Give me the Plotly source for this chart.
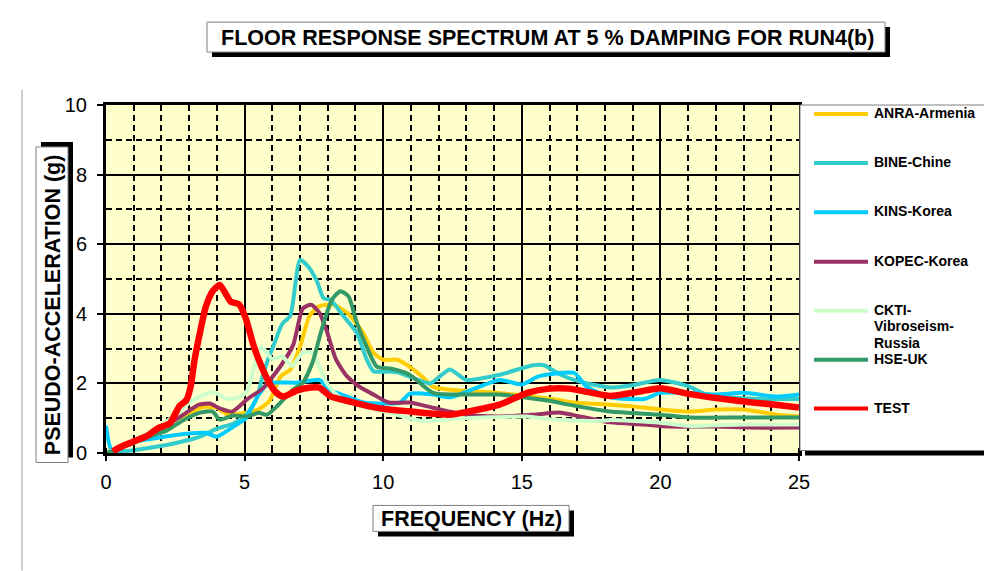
import plotly.graph_objects as go

# ---------------- data ----------------
anra_x = [0, 0.5, 1.0, 1.5, 2.0, 2.5, 3.0, 3.5, 4.0, 4.4, 5.0, 5.5, 5.9, 6.3, 6.65, 7.0, 7.35, 7.7, 8.2, 8.7,
          9.27, 9.65, 10.0, 10.5, 10.95, 11.45, 11.8, 12.4, 13.6, 14.7, 15.4, 16.3, 16.9, 18.2, 19.0, 20.0,
          21.05, 22.0, 23.0, 24.2, 25.0]
anra_y = [0, 0.15, 0.3, 0.5, 0.7, 0.95, 1.15, 1.32, 1.3, 1.1, 1.15, 1.25, 1.5, 2.2, 2.4, 3.06, 3.95, 4.22, 4.26, 4.03,
          3.46, 2.88, 2.68, 2.68, 2.48, 2.16, 1.9, 1.82, 1.76, 1.68, 1.62, 1.53, 1.45, 1.39, 1.34, 1.25,
          1.19, 1.25, 1.25, 1.1, 1.05]

bine_x = [0, 1.0, 1.6, 2.6, 3.4, 4.0, 4.6, 5.05, 5.4, 5.65, 5.85, 6.05, 6.35, 6.65, 7.0, 7.3, 7.6, 7.85, 8.1, 8.55,
          9.05, 9.4, 9.65, 10.2, 10.6, 11.1, 11.7, 12.4, 13.0, 14.2, 15.4, 15.8, 16.4, 17.1, 18.2, 19.0, 20.0,
          21.0, 21.6, 22.5, 23.5, 25.0]
bine_y = [0, 0.08, 0.15, 0.3, 0.47, 0.7, 0.85, 1.1, 1.5, 2.2, 2.7, 3.1, 3.7, 3.95, 5.55, 5.35, 4.95, 4.45, 4.4, 3.95,
          3.45, 2.7, 2.35, 2.34, 2.3, 2.15, 2.0, 2.4, 2.1, 2.25, 2.52, 2.52, 2.25, 2.05, 1.88, 1.95, 2.1,
          1.92, 1.7, 1.6, 1.55, 1.55]

kins_x = [0, 0.2, 0.6, 1.0, 1.6, 2.4, 2.9, 3.6, 4.0, 4.6, 5.05, 5.45, 5.85, 6.9, 7.7, 8.05, 8.7, 9.3, 10.6, 10.95,
          11.8, 12.4, 12.9, 14.2, 15.0, 15.6, 16.4, 16.9, 17.35, 18.2, 19.4, 20.0, 21.0, 22.0, 23.0, 24.2, 25.0]
kins_y = [0.78, 0.1, 0.22, 0.32, 0.4, 0.5, 0.55, 0.58, 0.47, 0.76, 1.0, 1.6, 2.0, 2.02, 2.1, 1.82, 1.62, 1.45, 1.45, 1.7,
          1.68, 1.6, 1.73, 2.1, 1.97, 2.2, 2.3, 2.3, 1.9, 1.6, 1.55, 1.73, 1.73, 1.68, 1.73, 1.62, 1.68]

kopec_x = [0, 0.5, 1.0, 1.5, 2.0, 2.5, 2.9, 3.35, 3.75, 4.1, 4.55, 5.1, 5.65, 6.3, 6.75, 7.1, 7.4, 7.7, 7.95, 8.3,
           8.7, 9.15, 9.65, 10.2, 10.95, 11.8, 13.0, 14.2, 15.4, 16.4, 17.1, 18.2, 19.4, 20.3, 22.0, 23.2, 25.0]
kopec_y = [0, 0.15, 0.3, 0.5, 0.7, 0.95, 1.16, 1.39, 1.42, 1.28, 1.19, 1.55, 1.85, 2.5, 3.1, 4.15, 4.26, 4.03, 3.54, 2.68,
           2.2, 1.9, 1.68, 1.45, 1.45, 1.3, 1.1, 1.05, 1.1, 1.16, 1.05, 0.88, 0.82, 0.76, 0.76, 0.73, 0.73]

ckti_x = [0, 0.5, 1.0, 1.5, 2.0, 2.65, 3.1, 3.85, 4.4, 4.85, 5.1, 5.35, 5.6, 6.0, 6.35, 6.7, 7.1, 7.45, 7.7, 7.95,
          8.4, 9.27, 10.2, 10.95, 11.4, 12.4, 13.6, 15.2, 16.0, 17.8, 18.2, 20.0, 21.0, 23.0, 25.0]
ckti_y = [0, 0.15, 0.35, 0.55, 0.8, 1.2, 1.5, 1.75, 1.55, 1.62, 1.8, 2.5, 3.05, 2.7, 2.78, 2.5, 2.88, 2.88, 2.48, 2.02,
          1.62, 1.34, 1.16, 1.0, 0.92, 0.98, 1.02, 1.05, 0.97, 0.92, 0.95, 0.87, 0.78, 0.82, 0.82]

hse_x = [0, 0.5, 1.0, 1.6, 2.2, 2.8, 3.4, 3.85, 4.1, 4.6, 5.1, 5.5, 5.8, 6.3, 6.75, 7.1, 7.45, 7.8, 8.15, 8.45,
         8.75, 9.05, 9.4, 9.77, 10.3, 10.95, 11.8, 13.0, 14.2, 15.2, 16.0, 16.7, 18.2, 20.0, 21.05, 23.0, 25.0]
hse_y = [0, 0.12, 0.3, 0.48, 0.65, 0.95, 1.16, 1.19, 0.96, 1.08, 1.05, 1.16, 1.1, 1.45, 1.82, 2.02, 2.6, 3.6, 4.4, 4.65,
         4.5, 3.74, 3.06, 2.48, 2.42, 2.25, 1.73, 1.68, 1.68, 1.59, 1.5, 1.39, 1.19, 1.1, 1.02, 1.02, 1.02]

test_x = [0.25, 0.6, 1.0, 1.5, 1.9, 2.3, 2.65, 2.9, 3.05, 3.2, 3.4, 3.6, 3.85, 4.1, 4.3, 4.5, 4.8, 5.05, 5.3, 5.55,
          5.9, 6.15, 6.4, 6.9, 7.4, 7.7, 8.1, 8.8, 9.5, 10.2, 10.9, 12.4, 13.0, 14.2, 15.2, 16.0, 16.7, 17.4,
          18.2, 19.15, 20.0, 21.0, 22.0, 23.0, 24.0, 25.0]
test_y = [0.05, 0.2, 0.33, 0.5, 0.72, 0.85, 1.35, 1.52, 1.9, 2.7, 3.5, 4.2, 4.65, 4.83, 4.6, 4.35, 4.27, 3.85, 3.15, 2.6,
          2.0, 1.73, 1.62, 1.8, 1.88, 1.88, 1.63, 1.48, 1.34, 1.25, 1.2, 1.1, 1.18, 1.39, 1.73, 1.85, 1.85, 1.75,
          1.64, 1.75, 1.86, 1.7, 1.58, 1.48, 1.4, 1.31]

names = ["ANRA-Armenia", "BINE-Chine", "KINS-Korea", "KOPEC-Korea", "CKTI-Vibroseism-Russia", "HSE-UK", "TEST"]
legend_lines = [["ANRA-Armenia"], ["BINE-Chine"], ["KINS-Korea"], ["KOPEC-Korea"],
                ["CKTI-", "Vibroseism-", "Russia"], ["HSE-UK"], ["TEST"]]
colors = ["#FFCC00", "#33CCCC", "#00CCFF", "#993366", "#CCFFCC", "#339966", "#FF0000"]
widths = [4, 4, 4, 4, 4, 4, 6.5]
xs = [anra_x, bine_x, kins_x, kopec_x, ckti_x, hse_x, test_x]
ys = [anra_y, bine_y, kins_y, kopec_y, ckti_y, hse_y, test_y]

title_text = "FLOOR RESPONSE SPECTRUM AT 5 % DAMPING FOR RUN4(b)"
xtitle_text = "FREQUENCY (Hz)"
ytitle_text = "PSEUDO-ACCELERATION (g)"

FONT = "Liberation Sans, Arial, sans-serif"

# ---------------- layout geometry ----------------
W, H = 984, 571
L, R, T, B = 106, 799, 105, 453.5


def px(xp):
    return (xp - L) / (R - L)


def py(yp):
    return (B - yp) / (B - T)


fig = go.Figure()
for n, x, y, c, w in zip(names, xs, ys, colors, widths):
    fig.add_trace(go.Scatter(x=x, y=y, mode="lines", name=n, showlegend=False,
                             line=dict(color=c, width=w, shape="spline", smoothing=0.6)))

shapes = []
annotations = []


def box(x0, y0, x1, y1, sh_dx, sh_dy, border="#808080"):
    shapes.append(dict(type="rect", xref="paper", yref="paper",
                       x0=px(x0 + sh_dx), x1=px(x1 + sh_dx), y0=py(y0 + sh_dy), y1=py(y1 + sh_dy),
                       fillcolor="black", line=dict(width=0)))
    shapes.append(dict(type="rect", xref="paper", yref="paper",
                       x0=px(x0), x1=px(x1), y0=py(y0), y1=py(y1),
                       fillcolor="white", line=dict(color=border, width=1)))


# title box
box(207, 22, 885, 52, 5, 5)
annotations.append(dict(text="<b>%s</b>" % title_text, xref="paper", yref="paper",
                        x=px(547), y=py(37.5), showarrow=False, xanchor="center", yanchor="middle",
                        font=dict(family=FONT, size=21.5, color="black")))
# x title box
box(373, 506, 569, 532, 5, 5)
annotations.append(dict(text="<b>%s</b>" % xtitle_text, xref="paper", yref="paper",
                        x=px(471.5), y=py(520), showarrow=False, xanchor="center", yanchor="middle",
                        font=dict(family=FONT, size=21.5, color="black")))
# y title box (shadow up-right)
box(36, 147, 68, 463, 5, -5)
annotations.append(dict(text="<b>%s</b>" % ytitle_text, xref="paper", yref="paper",
                        x=px(52.5), y=py(305), showarrow=False, xanchor="center", yanchor="middle",
                        textangle=-90, font=dict(family=FONT, size=21.5, color="black")))

# legend box
box(800, 105, 990, 451, 5, 5)
leg_y = [114, 163, 212.5, 262, 311, 360, 409]
for lines, c, yy in zip(legend_lines, colors, leg_y):
    shapes.append(dict(type="line", xref="paper", yref="paper", x0=px(814), x1=px(868), y0=py(yy), y1=py(yy),
                       line=dict(color=c, width=4)))
    for k, t in enumerate(lines):
        annotations.append(dict(text="<b>%s</b>" % t, xref="paper", yref="paper", x=px(872),
                                y=py(yy - 1 + 16.5 * k), showarrow=False, xanchor="left", yanchor="middle",
                                align="left", font=dict(family=FONT, size=14, color="black")))

# left chart-area border line
shapes.append(dict(type="line", xref="paper", yref="paper", x0=px(22), x1=px(22), y0=py(90), y1=py(571),
                   line=dict(color="#999999", width=1)))

fig.update_layout(
    width=W, height=H,
    margin=dict(l=L, r=W - R, t=T, b=H - B, autoexpand=False),
    paper_bgcolor="white", plot_bgcolor="#FFFFCC",
    font=dict(family=FONT, color="black"),
    shapes=shapes, annotations=annotations,
    showlegend=False,
    xaxis=dict(range=[0, 25], tick0=0, dtick=5, showgrid=True, gridcolor="black", gridwidth=2,
               zeroline=False, showline=True, linecolor="black", linewidth=3, mirror=True,
               ticks="outside", ticklen=5, tickwidth=2, tickcolor="black", ticklabelstandoff=4,
               tickfont=dict(size=20, family=FONT, color="black"),
               minor=dict(dtick=1, showgrid=True, gridcolor="black", gridwidth=2, griddash="6px,4px",
                          ticks="inside", ticklen=5, tickcolor="black", tickwidth=2)),
    yaxis=dict(range=[0, 10], tick0=0, dtick=2, showgrid=True, gridcolor="black", gridwidth=2,
               zeroline=False, showline=True, linecolor="black", linewidth=3, mirror=True,
               ticks="outside", ticklen=6, tickwidth=2, tickcolor="black", ticklabelstandoff=6,
               tickfont=dict(size=20, family=FONT, color="black"),
               minor=dict(dtick=1, showgrid=True, gridcolor="black", gridwidth=2, griddash="6px,4px")),
)

fig.write_html("out.html")
